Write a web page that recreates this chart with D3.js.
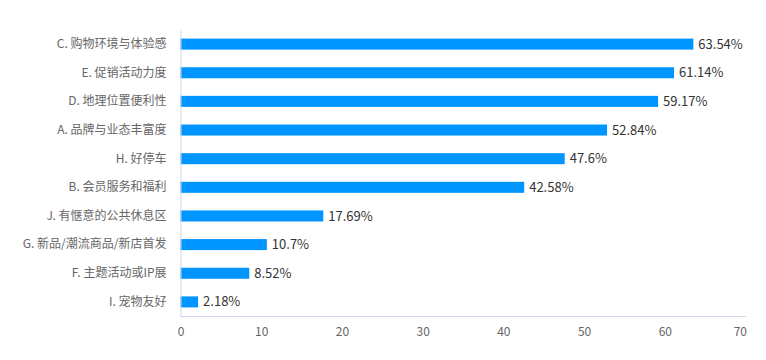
<!DOCTYPE html>
<html><head><meta charset="utf-8">
<script src="https://cdn.jsdelivr.net/npm/d3@7"></script>
<style>
html,body{margin:0;padding:0;background:#fff;}
svg text{font-family:"Noto Sans CJK SC","Noto Sans",sans-serif;}
</style></head>
<body>
<svg id="chart" width="766" height="360"></svg>
<script>
const categories = ["C. 购物环境与体验感","E. 促销活动力度","D. 地理位置便利性","A. 品牌与业态丰富度","H. 好停车","B. 会员服务和福利","J. 有惬意的公共休息区","G. 新品/潮流商品/新店首发","F. 主题活动或IP展","I. 宠物友好"];
const values = [63.54, 61.14, 59.17, 52.84, 47.6, 42.58, 17.69, 10.7, 8.52, 2.18];
const valueLabels = ["63.54%","61.14%","59.17%","52.84%","47.6%","42.58%","17.69%","10.7%","8.52%","2.18%"];
const xTicks = [0,10,20,30,40,50,60,70];

const svg = d3.select("#chart");
const mLeft = 180.5, mRight = 745.5, mTop = 30, mBottom = 316;
const x = d3.scaleLinear().domain([0,70]).range([mLeft, mRight]);
const y = d3.scaleBand().domain(categories).range([mTop, mBottom]).paddingInner(0.615).paddingOuter(0.3);

// bars
svg.append("g").selectAll("rect").data(values).join("rect")
  .attr("x", x(0))
  .attr("y", (d,i)=>y(categories[i]))
  .attr("width", d=>x(d)-x(0))
  .attr("height", y.bandwidth())
  .attr("fill", "#0095ff");

// data labels
svg.append("g").selectAll("text").data(values).join("text")
  .attr("x", d=>x(d)+5)
  .attr("y", (d,i)=>y(categories[i])+y.bandwidth()/2)
  .attr("dy","0.35em")
  .attr("font-size","13px")
  .attr("fill","#333")
  .text((d,i)=>valueLabels[i]);

// left axis
const ay = svg.append("g").attr("transform",`translate(${mLeft},0)`)
  .call(d3.axisLeft(y).tickSize(0).tickPadding(14));
ay.select(".domain").attr("stroke","#ccd6eb");
ay.selectAll("text").attr("font-size","12px").attr("fill","#666");

// bottom axis
const ax = svg.append("g").attr("transform",`translate(0,${mBottom})`)
  .call(d3.axisBottom(x).tickValues(xTicks).tickSize(0).tickPadding(11).tickFormat(d3.format("d")));
ax.select(".domain").attr("stroke","#ccd6eb");
ax.selectAll("text").attr("font-size","12px").attr("fill","#666");
ax.selectAll(".tick").filter(d=>d===70).select("text").attr("text-anchor","end").attr("dx","1px");
</script>
</body></html>
